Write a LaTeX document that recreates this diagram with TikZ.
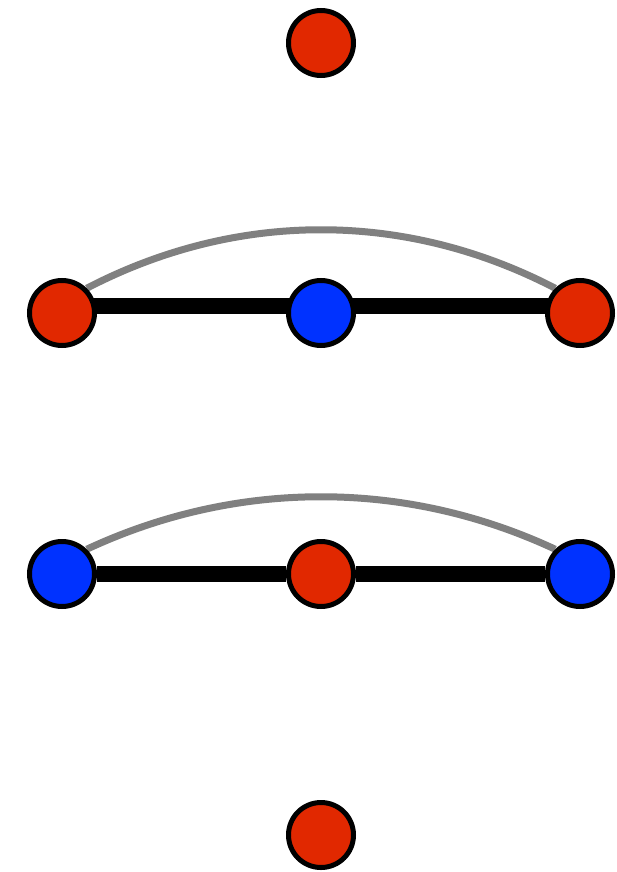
\documentclass[tikz,border=0pt]{standalone}
\usetikzlibrary{backgrounds}
\definecolor{nred}{RGB}{225,40,0}
\definecolor{nblue}{RGB}{0,50,255}
\definecolor{arcgray}{RGB}{128,128,128}
\begin{document}
\begin{tikzpicture}[x=1pt,y=-1pt,
  vert/.style={circle,draw=black,line width=5pt,minimum size=65pt,inner sep=0pt},
  rv/.style={vert,fill=nred},
  bv/.style={vert,fill=nblue},
  bond/.style={line width=16pt,black},
  arcedge/.style={line width=7pt,arcgray}]
\useasboundingbox (0,0) rectangle (616,872);
\node[rv] (t) at (321,43) {};
\node[rv] (a1) at (62,313) {};
\node[bv] (b1) at (321,313) {};
\node[rv] (c1) at (580,313) {};
\node[bv] (a2) at (62,574) {};
\node[rv] (b2) at (321,574) {};
\node[bv] (c2) at (580,574) {};
\node[rv] (bt) at (321,835) {};
\begin{pgfonlayer}{background}
\draw[arcedge] (a1.45) .. controls ([xshift=150pt,yshift=78pt]a1.45) and ([xshift=-150pt,yshift=78pt]c1.135) .. (c1.135);
\draw[bond] ([yshift=7pt]a1.center) -- ([yshift=7pt]b1.center) -- ([yshift=7pt]c1.center);
\draw[arcedge] (a2.45) .. controls ([xshift=150pt,yshift=70pt]a2.45) and ([xshift=-150pt,yshift=70pt]c2.135) .. (c2.135);
\draw[bond] (a2) -- (b2) -- (c2);
\end{pgfonlayer}
\end{tikzpicture}
\end{document}
